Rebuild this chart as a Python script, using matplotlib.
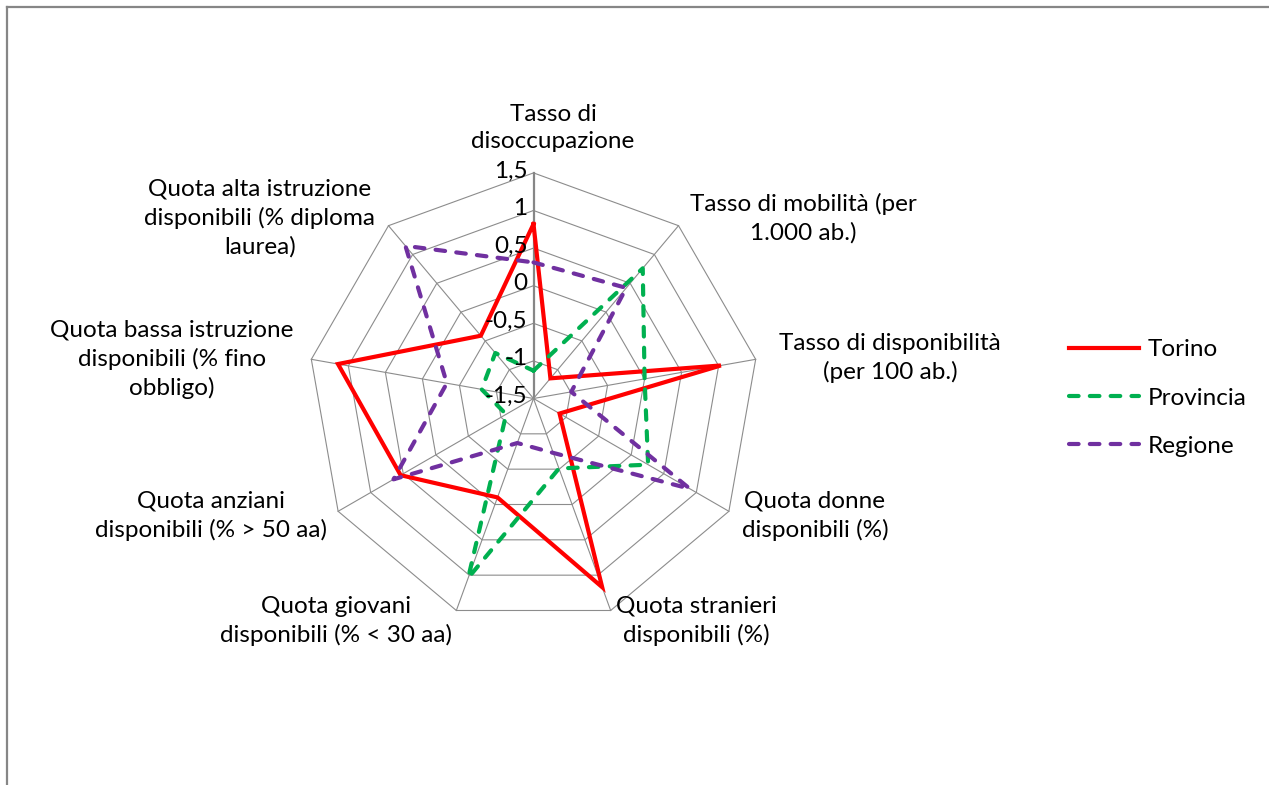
#!/usr/env/python

## Import General Tools
import numpy as np

import matplotlib as mpl
mpl.use('Agg')
from matplotlib import pyplot as plt
from matplotlib.lines import Line2D
from matplotlib.transforms import offset_copy

##-------------------------------------------------------------------------
## Data
##-------------------------------------------------------------------------
categories = ["Tasso di\ndisoccupazione",
              "Tasso di mobilità (per\n1.000 ab.)",
              "Tasso di disponibilità\n(per 100 ab.)",
              "Quota donne\ndisponibili (%)",
              "Quota stranieri\ndisponibili (%)",
              "Quota giovani\ndisponibili (% < 30 aa)",
              "Quota anziani\ndisponibili (% > 50 aa)",
              "Quota bassa istruzione\ndisponibili (% fino\nobbligo)",
              "Quota alta istruzione\ndisponibili (% diploma\nlaurea)"]
torino = [0.82, -1.15, 1.03, -1.10, 1.17, -0.10, 0.54, 1.14, -0.41]
provincia = [-1.13, 0.76, 0.00, 0.26, -0.51, 1.04, -1.08, -0.80, -0.71]
regione = [0.31, 0.42, -0.99, 0.90, -0.73, -0.87, 0.65, -0.33, 1.15]
series_names = ["Torino", "Provincia", "Regione"]
levels = [-1.5, -1.0, -0.5, 0.0, 0.5, 1.0, 1.5]
level_labels = ["-1,5", "-1", "-0,5", "0", "0,5", "1", "1,5"]

# label block centres in pixels (x, y)
label_pos = [(553, 128), (803, 218), (890, 358), (815, 516), (696, 621),
             (336, 621), (211, 516), (172, 359), (260, 218)]

##-------------------------------------------------------------------------
## Main Program
##-------------------------------------------------------------------------
def main():
    W, H = 1269, 785
    cx, cy, R = 533.5, 398.5, 225.6
    plt.rcParams['font.family'] = ['Lato', 'DejaVu Sans']
    fs = 17.5

    fig = plt.figure(figsize=(W/100, H/100), dpi=100)
    ax = fig.add_axes([(cx-R)/W, (H-cy-R)/H, 2*R/W, 2*R/H], projection='polar')
    ax.set_theta_zero_location('N')
    ax.set_theta_direction(-1)
    ax.set_ylim(levels[0], levels[-1])
    ax.grid(False)
    ax.set_xticks([])
    ax.set_yticks([])
    ax.spines['polar'].set_visible(False)
    ax.patch.set_visible(False)

    n = len(categories)
    angles = np.arange(n) * 2*np.pi/n
    closed = np.append(angles, angles[0])

    # polygon grid
    for lvl in levels[1:]:
        ax.plot(closed, [lvl]*(n+1), color='#8c8c8c', lw=0.8, clip_on=False, zorder=1)
    for i, a in enumerate(angles):
        if i == 0:
            ax.plot([a, a], [levels[0], levels[-1]], color='#868686', lw=1.6, clip_on=False, zorder=1)
        else:
            ax.plot([a, a], [levels[0], levels[-1]], color='#8c8c8c', lw=0.8, clip_on=False, zorder=1)

    # value labels along top axis (drawn over the series)
    trans = offset_copy(ax.transData, fig=fig, x=-6, y=2, units='dots')
    for lvl, lab in zip(levels, level_labels):
        ax.text(0, lvl, lab, transform=trans, ha='right', va='center',
                fontsize=fs, zorder=6)

    # series
    styles = [dict(color='#ff0000', ls='-'),
              dict(color='#00b050', ls=(0, (2.3, 2.7))),
              dict(color='#7030a0', ls=(0, (2.3, 2.7)))]
    for vals, name, st in zip([torino, provincia, regione], series_names, styles):
        v = np.append(vals, vals[0])
        ax.plot(closed, v, lw=3.0, label=name, clip_on=False, zorder=3,
                dash_capstyle='round', solid_joinstyle='miter', **st)

    # category labels
    for lab, (px, py) in zip(categories, label_pos):
        fig.text(px/W, 1-py/H, lab, ha='center', va='center', fontsize=fs,
                 multialignment='center', linespacing=1.4)

    handles, labels = ax.get_legend_handles_labels()
    fig.legend(handles, labels, loc='center left', bbox_to_anchor=(1069/W, 1-398/H),
               frameon=False, fontsize=fs, handlelength=2.9, handletextpad=0.33,
               labelspacing=1.12, borderpad=0, borderaxespad=0)

    # chart frame (only top and left visible)
    fig.add_artist(Line2D([7/W, 7/W], [0, 1-7/H], transform=fig.transFigure,
                          color='#868686', lw=1.6))
    fig.add_artist(Line2D([7/W, 1], [1-7/H, 1-7/H], transform=fig.transFigure,
                          color='#868686', lw=1.6))

    fig.savefig('out.png', dpi=100)


if __name__ == '__main__':
    main()
